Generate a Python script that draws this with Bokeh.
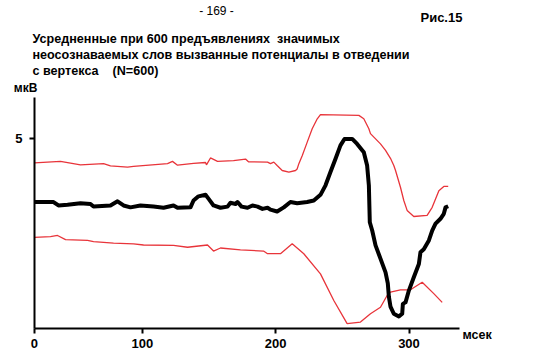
from bokeh.plotting import figure
from bokeh.models import Label, FixedTicker, Range1d
from bokeh.embed import file_html
from bokeh.resources import INLINE

# ---- data (ms, µV) ----
x_origin = 19.1          # time at the axis origin (labelled "0")
x_end = 337.5
y_top = 6.07

mean_t = [19.1, 33.4, 37.1, 43.9, 53.6, 61.1, 63.4, 76.1, 81.4, 85.9, 91.1, 98.6, 108.4,
          115.9, 123.4, 126.4, 136.1, 138.4, 142.1, 147.4, 149.6, 153.4, 158.6, 163.9,
          166.1, 169.9, 171.4, 174.4, 178.9, 182.6, 186.4, 190.1, 193.9, 196.1, 201.1,
          206.1, 211.1, 216.1, 223.6, 228.6, 233.6, 237.4, 241.1, 244.9, 248.6, 251.6,
          257.4, 261.1, 266.1, 268.6, 269.9, 270.6, 272.4, 274.9, 278.6, 282.4, 284.1,
          284.9, 286.1, 288.6, 292.4, 294.9, 295.4, 297.4, 299.9, 303.6, 307.4, 308.6,
          311.1, 314.9, 317.4, 319.9, 323.6, 326.1, 327.4, 329.4]
mean_v = [3.32, 3.32, 3.23, 3.25, 3.29, 3.27, 3.20, 3.23, 3.34, 3.23, 3.18, 3.23, 3.20,
          3.17, 3.23, 3.17, 3.18, 3.36, 3.47, 3.51, 3.41, 3.23, 3.17, 3.20,
          3.30, 3.27, 3.32, 3.20, 3.17, 3.23, 3.20, 3.14, 3.17, 3.12, 3.07,
          3.18, 3.32, 3.29, 3.32, 3.36, 3.51, 3.76, 4.11, 4.46, 4.81, 4.98,
          4.98, 4.85, 4.63, 4.28, 3.76, 2.79, 2.57, 2.18, 1.83, 1.47, 1.18,
          0.83, 0.57, 0.38, 0.31, 0.38, 0.64, 0.68, 0.99, 1.34, 1.69, 2.00,
          2.08, 2.31, 2.57, 2.75, 2.88, 3.01, 3.18, 3.21]

upper_t = [19.1, 38.6, 53.6, 70.9, 76.1, 88.9, 93.4, 118.9, 122.6, 126.4, 138.4, 147.4,
           148.1, 151.1, 156.4, 168.4, 177.4, 179.6, 193.9, 196.1, 198.6, 201.1, 204.9,
           209.9, 214.9, 216.1, 217.4, 219.9, 223.6, 227.4, 231.2, 233.6, 262.4, 266.1,
           269.9, 271.1, 278.6, 282.4, 286.1, 288.6, 289.9, 293.6, 296.1, 298.6, 303.6,
           313.6, 317.4, 322.4, 326.1, 329.4]
upper_v = [4.35, 4.39, 4.30, 4.33, 4.27, 4.24, 4.26, 4.33, 4.39, 4.29, 4.34, 4.36,
           4.30, 4.48, 4.39, 4.41, 4.45, 4.38, 4.37, 4.33, 4.37, 4.28, 4.15,
           4.11, 4.15, 4.19, 4.33, 4.54, 4.89, 5.25, 5.51, 5.62, 5.60, 5.51,
           5.25, 5.12, 4.85, 4.68, 4.47, 4.28, 4.15, 3.71, 3.36, 3.10, 2.94,
           2.97, 3.18, 3.62, 3.73, 3.73]

lower_t = [19.1, 31.1, 36.4, 42.4, 58.9, 63.4, 78.4, 93.4, 100.9, 123.4, 133.9, 148.9,
           153.4, 158.6, 173.6, 190.9, 193.9, 203.6, 212.4, 221.1, 233.6, 243.6, 253.6,
           263.6, 271.1, 278.6, 283.6, 286.1, 293.6, 301.1, 309.9, 318.6, 324.9]
lower_v = [2.39, 2.41, 2.44, 2.33, 2.31, 2.28, 2.24, 2.22, 2.19, 2.18, 2.13, 2.19,
           2.03, 2.11, 2.06, 2.03, 1.96, 1.96, 2.22, 1.96, 1.43, 0.73, 0.12,
           0.16, 0.38, 0.55, 0.86, 0.95, 1.01, 1.01, 1.21, 0.91, 0.68]

x_ticks = [x_origin, 100, 200, 300]
x_tick_labels = ["0", "100", "200", "300"]
y_ticks = [5]

NB = "\u00a0"
page_title = "-" + NB + "169" + NB + "-"
fig_label = "Рис.15"
title_lines = ["Усредненные при 600 предъявлениях" + NB + NB + "значимых",
               "неосознаваемых слов вызванные потенциалы в отведении",
               "с вертекса" + NB * 4 + "(N=600)"]
y_unit = "мкВ"
x_unit = "мсек"

FONT = "Liberation Sans"
RED = "#e8343a"

W, H = 545, 356
# the plotting area spans the whole canvas; the axes are pinned inside it
p = figure(width=W, height=H, output_backend="svg", toolbar_location=None,
           x_range=Range1d(-6.375, -6.375 + 0.75 * W),
           y_range=Range1d((327.7 - H) / 38.0, 327.7 / 38.0),
           min_border=0)
p.outline_line_color = None
p.grid.visible = False
p.background_fill_color = "white"
p.border_fill_color = "white"

for ax in (p.xaxis[0], p.yaxis[0]):
    ax.axis_line_width = 2
    ax.axis_line_color = "black"
    ax.major_tick_line_width = 2
    ax.major_tick_line_color = "black"
    ax.major_tick_in = 0
    ax.major_tick_out = 5
    ax.minor_tick_line_color = None
    ax.major_label_text_font = FONT
    ax.major_label_text_font_style = "bold"
    ax.major_label_text_font_size = "13px"
    ax.major_label_text_color = "black"

p.xaxis.fixed_location = 0
p.xaxis.bounds = (x_origin, x_end)
p.xaxis.ticker = FixedTicker(ticks=x_ticks)
p.xaxis.major_label_overrides = {t: s for t, s in zip(x_ticks, x_tick_labels)}
p.xaxis.major_label_standoff = 6

p.yaxis.fixed_location = x_origin
p.yaxis.bounds = (0, y_top)
p.yaxis.ticker = FixedTicker(ticks=y_ticks)
p.yaxis.major_label_standoff = 7

p.line(upper_t, upper_v, line_color=RED, line_width=1.3)
p.line(lower_t, lower_v, line_color=RED, line_width=1.3)
p.line(mean_t, mean_v, line_color="black", line_width=4, line_join="round")

def lab(x, y, text, size="12px", style="bold", align="left", baseline="middle"):
    p.add_layout(Label(x=x, y=y, text=text, text_font=FONT, text_font_size=size,
                       text_font_style=style, text_align=align, text_baseline=baseline,
                       text_color="black"))

lab(155.6, 8.36, page_title, size="12px", style="normal", align="center")
lab(308.6, 8.18, fig_label, size="13px")
for i, line in enumerate(title_lines):
    lab(17.6, 7.60 - 0.42 * i, line, size="12.6px")
lab(12.4, 6.33, y_unit, size="12px", align="center")
lab(340.1, -0.17, x_unit, size="12.5px")

open("out.html", "w").write(file_html(p, INLINE))
